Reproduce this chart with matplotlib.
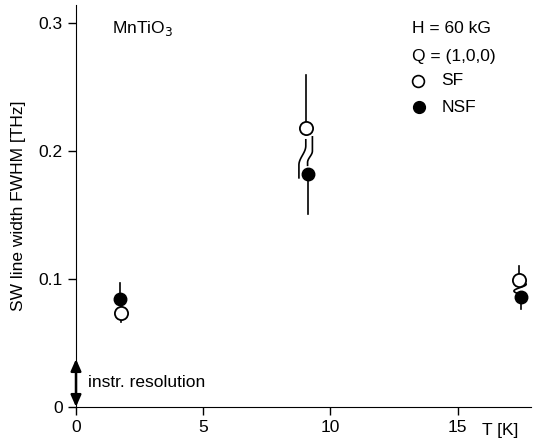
import numpy as np
import matplotlib
matplotlib.use("Agg")
import matplotlib.pyplot as plt

plt.rcParams['font.family'] = ['Liberation Sans', 'DejaVu Sans']
plt.rcParams['font.size'] = 12.5

# Data
T_sf = [1.78, 9.03, 17.41]
w_sf = [0.0737, 0.2177, 0.0992]
T_nsf = [1.74, 9.10, 17.49]
w_nsf = [0.0844, 0.1818, 0.0857]
# error-bar extents: (upper end on the upper point, lower end on the lower point)
err_top = [0.0971, 0.259, 0.1104]
err_bot = [0.0667, 0.1508, 0.0766]
resolution = 0.0375

fs = 12.5
fig = plt.figure(figsize=(5.34, 4.40), dpi=100)
ax = fig.add_axes([76/534, 33/440, 455/534, 402/440])
ax.set_xlim(0, 17.88)
ax.set_ylim(0, 0.314)

lw = 1.2
# error bars
for i in range(3):
    up = max(w_sf[i], w_nsf[i]); lo = min(w_sf[i], w_nsf[i])
    xu = T_sf[i] if w_sf[i] >= w_nsf[i] else T_nsf[i]
    xl = T_nsf[i] if w_sf[i] >= w_nsf[i] else T_sf[i]
    ax.plot([xu, xu], [up, err_top[i]], color='k', lw=lw, zorder=2)
    ax.plot([xl, xl], [lo, err_bot[i]], color='k', lw=lw, zorder=2)
    if i == 0:
        ax.plot([T_sf[i], T_nsf[i]], [w_sf[i], w_nsf[i]], color='k', lw=lw, zorder=2)

def squiggle(x0, y0, x1, y1, ya, yb):
    t = np.linspace(0, 1, 30)
    s = 0.5 - 0.5*np.cos(np.pi*t)
    xs = np.concatenate([[x0, x0], x0 + (x1-x0)*s, [x1]])
    ys = np.concatenate([[y0, ya], ya + (yb-ya)*t, [y1]])
    ax.plot(xs, ys, color='k', lw=lw, zorder=2)

# middle cluster break marks
squiggle(T_sf[1], w_sf[1]-0.009, T_sf[1]-0.27, 0.179, 0.204, 0.189)
squiggle(T_sf[1]+0.26, 0.211, T_nsf[1], w_nsf[1]+0.007, 0.200, 0.191)
# right cluster small S (break mark)
t = np.linspace(0, 1, 60)
xs = 17.45 + 0.24*np.sin(2*np.pi*t)
ys = 0.0985 - 0.0105*t
ax.plot(xs, ys, color='k', lw=lw, zorder=2)

ax.plot(T_sf, w_sf, 'o', ms=9.5, mfc='white', mec='k', mew=1.3, ls='none', zorder=3)
ax.plot(T_nsf, w_nsf, 'o', ms=9, mfc='k', mec='k', ls='none', zorder=4)

# instrumental resolution arrow
ax.annotate('', xy=(0, 0), xytext=(0, resolution),
            arrowprops=dict(arrowstyle='<|-|>,head_length=0.5,head_width=0.22', color='k',
                            lw=1.8, mutation_scale=14, shrinkA=0, shrinkB=0),
            annotation_clip=False, zorder=5)
ax.text(0.48, 0.0195, 'instr. resolution', ha='left', va='center', fontsize=fs)

ax.text(1.42, 0.296, r'MnTiO$_3$', ha='left', va='center', fontsize=fs)
ax.text(13.2, 0.296, 'H = 60 kG', ha='left', va='center', fontsize=fs)
ax.text(13.2, 0.2735, 'Q = (1,0,0)', ha='left', va='center', fontsize=fs)
ax.plot([13.44], [0.2548], 'o', ms=8.5, mfc='white', mec='k', mew=1.2, clip_on=False)
ax.plot([13.48], [0.2342], 'o', ms=8.5, mfc='k', mec='k', clip_on=False)
ax.text(14.35, 0.2548, 'SF', ha='left', va='center', fontsize=fs)
ax.text(14.35, 0.2342, 'NSF', ha='left', va='center', fontsize=fs)

ax.spines['top'].set_visible(False)
ax.spines['right'].set_visible(False)
ax.set_xticks([0, 5, 10, 15])
ax.set_yticks([0, 0.1, 0.2, 0.3])
ax.set_yticklabels(['0', '0.1', '0.2', '0.3'])
ax.tick_params(direction='out', length=6, width=1, labelsize=fs)
ax.set_ylabel('SW line width FWHM [THz]', fontsize=fs, labelpad=9)
ax.text(15.95, -0.0185, 'T [K]', ha='left', va='center', fontsize=fs, clip_on=False)

fig.savefig('out.png', dpi=100)
